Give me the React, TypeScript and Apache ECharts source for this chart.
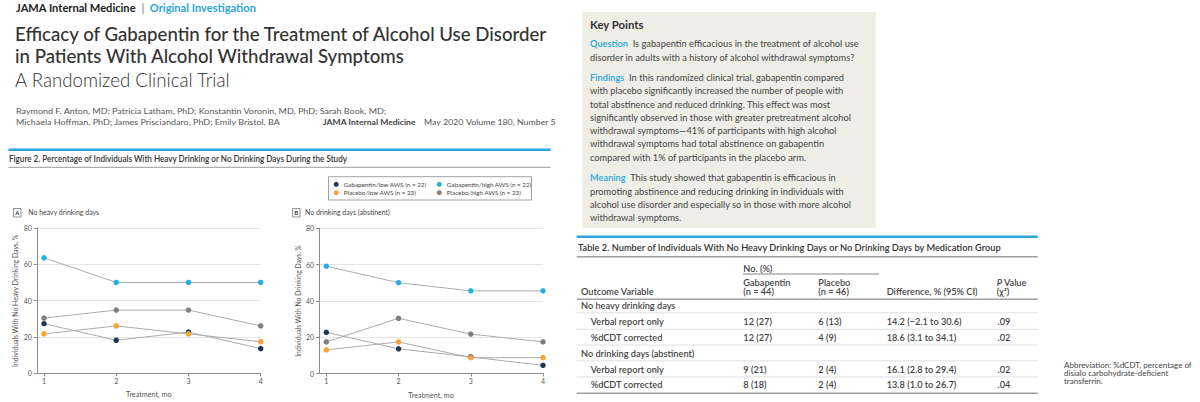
import React, { useEffect, useRef } from 'react';
import * as echarts from 'echarts';

const FF = 'Lato, "Open Sans", sans-serif';
const BLUE = '#2ba5dc';

// ---- chart data (percent of individuals) ----
const months = [1, 2, 3, 4];
const yTicks = [0, 20, 40, 60, 80];
const groupNames = [
  'Gabapentin/low AWS (n = 22)',
  'Gabapentin/high AWS (n = 22)',
  'Placebo/low AWS (n = 23)',
  'Placebo/high AWS (n = 23)',
];
const groupColors = ['#1d3655', '#22aee6', '#f4a43a', '#857e79'];

// Panel A: no heavy drinking days
const noHeavyGabLow = [27.3, 18.2, 22.7, 13.6];
const noHeavyGabHigh = [63.6, 50.0, 50.0, 50.0];
const noHeavyPlcLow = [21.7, 26.1, 21.7, 17.4];
const noHeavyPlcHigh = [30.4, 34.8, 34.8, 26.1];
// Panel B: no drinking days (abstinent)
const abstGabLow = [22.7, 13.6, 9.1, 4.5];
const abstGabHigh = [59.1, 50.0, 45.5, 45.5];
const abstPlcLow = [13.0, 17.4, 8.7, 8.7];
const abstPlcHigh = [17.4, 30.4, 21.7, 17.4];

// ---- table data ----
const tableSections = ['No heavy drinking days', 'No drinking days (abstinent)'];
const tableMeasures = ['Verbal report only', '%dCDT corrected'];
const gabapentinCounts = ['12 (27)', '12 (27)', '9 (21)', '8 (18)'];
const placeboCounts = ['6 (13)', '4 (9)', '2 (4)', '2 (4)'];
const differences = ['14.2 (−2.1 to 30.6)', '18.6 (3.1 to 34.1)', '16.1 (2.8 to 29.4)', '13.8 (1.0 to 26.7)'];
const pValues = ['.09', '.02', '.02', '.04'];

// ---- key points text ----
const kpQuestion = [
  'Is gabapentin efficacious in the treatment of alcohol use',
  'disorder in adults with a history of alcohol withdrawal symptoms?',
];
const kpFindings = [
  'In this randomized clinical trial, gabapentin compared',
  'with placebo significantly increased the number of people with',
  'total abstinence and reduced drinking. This effect was most',
  'significantly observed in those with greater pretreatment alcohol',
  'withdrawal symptoms—41% of participants with high alcohol',
  'withdrawal symptoms had total abstinence on gabapentin',
  'compared with 1% of participants in the placebo arm.',
];
const kpMeaning = [
  'This study showed that gabapentin is efficacious in',
  'promoting abstinence and reducing drinking in individuals with',
  'alcohol use disorder and especially so in those with more alcohol',
  'withdrawal symptoms.',
];
const authorLines = [
  'Raymond F. Anton, MD; Patricia Latham, PhD; Konstantin Voronin, MD, PhD; Sarah Book, MD;',
  'Michaela Hoffman, PhD; James Prisciandaro, PhD; Emily Bristol, BA',
];
const abbreviationLines = ['Abbreviation: %dCDT, percentage of', 'disialo carbohydrate-deficient', 'transferrin.'];

let ctx: CanvasRenderingContext2D | null = null;
function measure(text: string, size: number, weight: string | number = 'normal') {
  if (!ctx) ctx = document.createElement('canvas').getContext('2d');
  ctx!.font = `normal ${weight} ${size}px ${FF}`;
  return ctx!.measureText(text).width;
}
function fit(text: string, size: number, weight: string | number, target: number) {
  return target / measure(text, size, weight);
}

function txt(x: number, y: number, text: string, size: number, o: any = {}) {
  return {
    type: 'text',
    x,
    y,
    scaleX: o.sx ?? 1,
    silent: true,
    style: {
      text,
      x: 0,
      y: 0,
      fontSize: size,
      fontFamily: FF,
      fontWeight: o.weight ?? 'normal',
      fontStyle: o.italic ? 'italic' : 'normal',
      fill: o.fill ?? '#333',
      align: o.align ?? 'left',
      verticalAlign: 'middle',
      rich: o.rich,
    },
  };
}
function hline(x1: number, x2: number, y: number, color: string, w: number) {
  return { type: 'line', silent: true, shape: { x1, y1: y, x2, y2: y }, style: { stroke: color, lineWidth: w } };
}

function buildGraphic() {
  const g: any[] = [];
  // header
  const hdrText = 'JAMA Internal Medicine  |  Original Investigation';
  const hs = fit(hdrText, 11, 'bold', 240);
  g.push(
    txt(16, 7.5, '{a|JAMA Internal Medicine}  |  {b|Original Investigation}', 11, {
      sx: hs,
      weight: 'bold',
      fill: '#999',
      rich: {
        a: { fontSize: 11, fontFamily: FF, fontWeight: 'bold', fill: '#222' },
        b: { fontSize: 11, fontFamily: FF, fontWeight: 'bold', fill: BLUE },
      },
    })
  );
  const t1 = 'Efficacy of Gabapentin for the Treatment of Alcohol Use Disorder';
  const ts = fit(t1, 19, 500, 534);
  g.push(txt(15, 33, t1, 19, { sx: ts, weight: 500, fill: '#333' }));
  g.push(txt(15, 55, 'in Patients With Alcohol Withdrawal Symptoms', 19, { sx: ts, weight: 500, fill: '#333' }));
  const t3 = 'A Randomized Clinical Trial';
  g.push(txt(15, 79, t3, 19, { sx: fit(t3, 19, 300, 216), weight: 300, fill: '#333' }));
  const as = fit(authorLines[0], 8, 'normal', 371);
  g.push(txt(16, 111.5, authorLines[0], 8, { sx: as, fill: '#555' }));
  g.push(txt(16, 122.5, authorLines[1], 8, { sx: as, fill: '#555' }));
  const jm = 'JAMA Internal Medicine';
  g.push(txt(323, 122.5, jm, 8, { sx: fit(jm, 8, 'bold', 93), weight: 'bold', fill: '#444' }));
  const vol = 'Volume 180, Number 5';
  const vs = fit(vol, 8, 'normal', 90);
  g.push(txt(424, 122.5, 'May 2020', 8, { sx: vs, fill: '#555' }));
  g.push(txt(466, 122.5, vol, 8, { sx: vs, fill: '#555' }));

  // figure heading
  g.push({ type: 'rect', silent: true, shape: { x: 8.5, y: 148.5, width: 542, height: 2.5 }, style: { fill: BLUE } });
  const ft = 'Figure 2. Percentage of Individuals With Heavy Drinking or No Drinking Days During the Study';
  g.push(txt(9, 159, ft, 9, { sx: fit(ft, 9, 600, 339), weight: 600, fill: '#333' }));
  g.push(hline(8.5, 550.5, 167.3, '#9a9a9a', 1));

  // legend frame
  g.push({ type: 'rect', silent: true, shape: { x: 328.5, y: 176.7, width: 203, height: 23.3 }, style: { fill: 'none', stroke: '#8a8a8a', lineWidth: 0.8 } });

  // panel labels
  const pa = 'No heavy drinking days';
  const pb = 'No drinking days (abstinent)';
  const ps = fit(pa, 7.5, 'normal', 71);
  g.push({ type: 'rect', silent: true, shape: { x: 13.5, y: 208.5, width: 7.5, height: 8.5 }, style: { fill: '#fff', stroke: '#666', lineWidth: 0.7 } });
  g.push(txt(17.25, 212.8, 'A', 6, { align: 'center', weight: 'bold', fill: '#333' }));
  g.push(txt(28.3, 212.5, pa, 7.5, { sx: ps, fill: '#444' }));
  g.push({ type: 'rect', silent: true, shape: { x: 292.5, y: 208.5, width: 7.5, height: 8.5 }, style: { fill: '#fff', stroke: '#666', lineWidth: 0.7 } });
  g.push(txt(296.25, 212.8, 'B', 6, { align: 'center', weight: 'bold', fill: '#333' }));
  g.push(txt(305, 212.5, pb, 7.5, { sx: ps, fill: '#444' }));

  // key points box
  g.push({ type: 'rect', silent: true, shape: { x: 582.3, y: 11.7, width: 293.4, height: 216 }, style: { fill: '#eeeee7' } });
  g.push(txt(590, 24.3, 'Key Points', 12, { sx: fit('Key Points', 12, 'bold', 54), weight: 'bold', fill: '#333' }));
  const ks = fit(kpFindings[3], 9.5, 'normal', 262);
  const lab = { l: { fontSize: 9.5, fontFamily: FF, fontWeight: 600, fill: BLUE } };
  const kpLine = (y: number, s: string, label?: string) =>
    g.push(txt(590, y, label ? `{l|${label}}  ${s}` : s, 9.5, { sx: ks, fill: '#444', rich: lab }));
  kpQuestion.forEach((s, i) => kpLine(43.5 + i * 14, s, i === 0 ? 'Question' : undefined));
  kpFindings.forEach((s, i) => kpLine(77.3 + i * 13.33, s, i === 0 ? 'Findings' : undefined));
  kpMeaning.forEach((s, i) => kpLine(177.7 + i * 13.33, s, i === 0 ? 'Meaning' : undefined));

  // table
  g.push({ type: 'rect', silent: true, shape: { x: 576.7, y: 235.5, width: 461, height: 2.5 }, style: { fill: BLUE } });
  const tt = 'Table 2. Number of Individuals With No Heavy Drinking Days or No Drinking Days by Medication Group';
  g.push(txt(578, 247.3, tt, 9.5, { sx: fit(tt, 9.5, 600, 424), weight: 600, fill: '#333' }));
  g.push(hline(576.7, 1037.7, 256.7, '#a0a0a0', 1.5));
  const cs = fit(differences[0], 8.5, 600, 75);
  const cell = (x: number, y: number, s: string, italic = false) =>
    g.push(txt(x, y, s, 8.5, { sx: cs, weight: 600, fill: '#444', italic }));
  cell(743.3, 268.3, 'No. (%)');
  g.push(hline(743, 879, 274, '#666', 0.8));
  cell(743.3, 282.3, 'Gabapentin');
  cell(743.3, 291.7, '(n = 44)');
  cell(818.3, 282.3, 'Placebo');
  cell(818.3, 291.7, '(n = 46)');
  cell(581, 291.7, 'Outcome Variable');
  cell(886.7, 291.7, 'Difference, % (95% CI)');
  g.push(txt(996.7, 282.3, '{i|P} Value', 8.5, {
    sx: cs, weight: 600, fill: '#444',
    rich: { i: { fontSize: 8.5, fontFamily: FF, fontWeight: 600, fontStyle: 'italic', fill: '#444' } },
  }));
  cell(996.7, 291.7, '(χ²)');
  g.push(hline(576.7, 1037.7, 299.3, '#a0a0a0', 1.5));
  const secY = [306, 354];
  const rowY = [321.7, 337.7, 369.3, 385];
  tableSections.forEach((s, i) => {
    cell(581, secY[i], s);
    g.push(hline(576.7, 1037.7, secY[i] + 6.8, '#d8d8d8', 0.8));
  });
  rowY.forEach((y, r) => {
    cell(590.7, y, tableMeasures[r % 2]);
    cell(743.3, y, gabapentinCounts[r]);
    cell(818.3, y, placeboCounts[r]);
    cell(886.7, y, differences[r]);
    cell(997.5, y, pValues[r]);
    if (r !== 1 && r !== 3) g.push(hline(576.7, 1037.7, y + 7.6, '#d8d8d8', 0.8));
  });
  g.push(hline(576.7, 1037.7, 345, '#d8d8d8', 0.8));
  g.push(hline(576.7, 1037.7, 393.3, '#a0a0a0', 1.5));

  // abbreviation note
  const ab = fit(abbreviationLines[0], 7, 'normal', 128);
  abbreviationLines.forEach((s, i) => g.push(txt(1064, 366 + i * 7.7, s, 7, { sx: ab, fill: '#444' })));
  return g;
}

export default function App() {
  const ref = useRef<HTMLDivElement>(null);
  useEffect(() => {
    document.body.style.margin = '0';
    const chart = echarts.init(ref.current!, undefined, { renderer: 'svg' });
    const legendSize = 6.5 * (83 / measure(groupNames[0], 6.5));
    const yNameA = 'Individuals With No Heavy Drinking Days, %';
    const yNameB = 'Individuals With No Drinking Days, %';
    const axisNameSize = 7 * (133 / measure(yNameA, 7));
    const xNameSize = 7 * (45.7 / measure('Treatment, mo', 7));
    const panels = [
      [noHeavyGabLow, noHeavyGabHigh, noHeavyPlcLow, noHeavyPlcHigh],
      [abstGabLow, abstGabHigh, abstPlcLow, abstPlcHigh],
    ];
    const axisCommon = (i: number) => ({
      gridIndex: i,
      type: 'value',
      min: 0.9,
      max: 4,
      name: 'Treatment, mo',
      nameLocation: 'middle',
      nameGap: 18,
      nameTextStyle: { fontSize: xNameSize, color: '#555', fontFamily: FF },
      axisLine: { show: true, lineStyle: { color: '#8c8c8c', width: 1 } },
      axisTick: { show: true, length: 3, customValues: months, lineStyle: { color: '#8c8c8c' } },
      axisLabel: { customValues: months, fontSize: 7, color: '#555', margin: 4, fontFamily: FF },
      splitLine: { show: false },
    });
    const yAxisCommon = (i: number, name: string) => ({
      gridIndex: i,
      type: 'value',
      min: yTicks[0],
      max: yTicks[yTicks.length - 1],
      interval: yTicks[1] - yTicks[0],
      name,
      nameLocation: 'middle',
      nameGap: 18,
      nameTextStyle: { fontSize: axisNameSize, color: '#555', fontFamily: FF },
      axisLine: { show: true, lineStyle: { color: '#8c8c8c', width: 1 } },
      axisTick: { show: true, length: 3, lineStyle: { color: '#8c8c8c' } },
      axisLabel: { fontSize: 7, color: '#555', margin: 5, fontFamily: FF },
      splitLine: { show: true, lineStyle: { color: '#e4e4e4', width: 1 } },
    });
    const series: any[] = [];
    panels.forEach((groups, p) =>
      groups.forEach((vals, gi) =>
        series.push({
          type: 'line',
          name: groupNames[gi],
          xAxisIndex: p,
          yAxisIndex: p,
          data: months.map((m, i) => [m, vals[i]]),
          symbol: 'circle',
          symbolSize: 5.5,
          lineStyle: { color: '#ababab', width: 1 },
          itemStyle: { color: groupColors[gi] },
          emphasis: { disabled: true },
          silent: true,
        })
      )
    );
    const legendCommon = {
      orient: 'vertical',
      icon: 'circle',
      itemWidth: 5,
      itemHeight: 5,
      itemGap: 0.4,
      padding: 0,
      selectedMode: false,
      top: 180.3,
      textStyle: { fontSize: legendSize, color: '#444', lineHeight: 8, fontFamily: FF },
    };
    chart.setOption({
      animation: false,
      textStyle: { fontFamily: FF },
      grid: [
        { left: 36.8, top: 228, width: 223.9, height: 145.3 },
        { left: 319.1, top: 228.2, width: 223.9, height: 145.3 },
      ],
      xAxis: [axisCommon(0), axisCommon(1)],
      yAxis: [yAxisCommon(0, yNameA), yAxisCommon(1, yNameB)],
      legend: [
        { ...legendCommon, left: 333.7, data: [groupNames[0], groupNames[2]] },
        { ...legendCommon, left: 436.8, data: [groupNames[1], groupNames[3]] },
      ],
      series,
      graphic: buildGraphic(),
    });
    return () => chart.dispose();
  }, []);
  return <div ref={ref} style={{ width: 1200, height: 402 }} />;
}
